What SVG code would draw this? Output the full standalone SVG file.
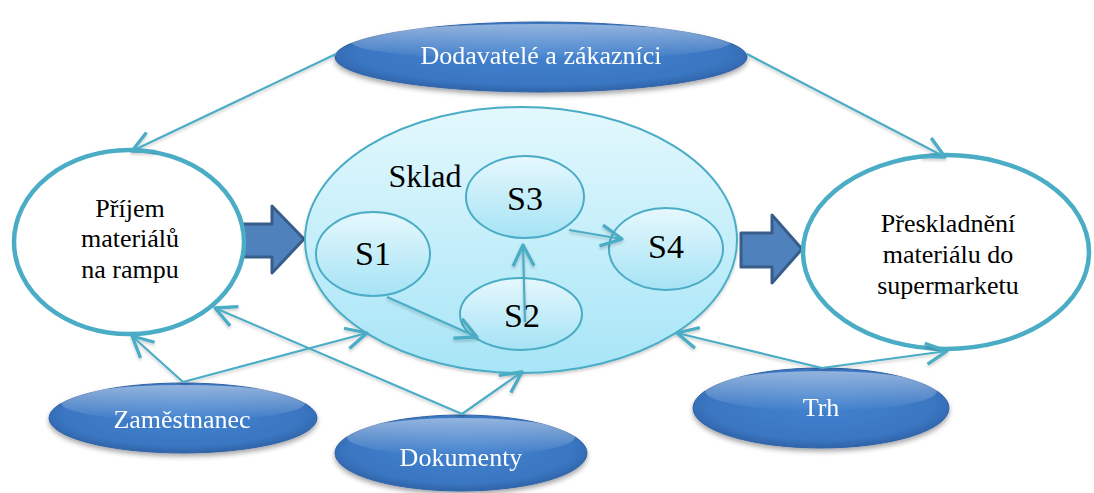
<svg xmlns="http://www.w3.org/2000/svg" width="1094" height="493" viewBox="0 0 1094 493">
  <style>
    .lbl { font-family: "Liberation Serif", "Times New Roman", serif; text-anchor: middle; }
    .dark { fill: #000000; font-size: 26px; }
    .big { fill: #000000; font-size: 34px; }
    .light { fill: #ffffff; font-size: 26px; }
    .ring { fill: #ffffff; stroke: #4BACC6; stroke-width: 4.5; }
    .cyan { stroke: #4BACC6; stroke-width: 2; }
    .blue { fill: url(#blueBody); stroke: #2F62A6; stroke-width: 1; }
    .gloss { fill: url(#blueGloss); }
    .block { fill: #4F81BD; stroke: #385D8A; stroke-width: 3; stroke-linejoin: round; }
    .link { fill: none; stroke: #4BACC6; stroke-width: 2.2; marker-end: url(#vee); }
  </style>
  <defs>
    <radialGradient id="blueBody" cx="0.5" cy="0.45" r="0.6">
      <stop offset="0" stop-color="#4282CF"/>
      <stop offset="0.75" stop-color="#3A76C2"/>
      <stop offset="1" stop-color="#2A5A9C"/>
    </radialGradient>
    <linearGradient id="blueGloss" x1="0" y1="0" x2="0" y2="1">
      <stop offset="0" stop-color="#ffffff" stop-opacity="0.45"/>
      <stop offset="1" stop-color="#ffffff" stop-opacity="0"/>
    </linearGradient>
    <linearGradient id="aqua" x1="0" y1="0" x2="0" y2="1">
      <stop offset="0" stop-color="#E3F8FD"/>
      <stop offset="1" stop-color="#A7E5F7"/>
    </linearGradient>
    <linearGradient id="aquaSmall" x1="0" y1="0" x2="0" y2="1">
      <stop offset="0" stop-color="#E6F8FD"/>
      <stop offset="1" stop-color="#A5E3F5"/>
    </linearGradient>
    <filter id="shadow" x="-10%" y="-20%" width="120%" height="160%">
      <feDropShadow dx="0" dy="3" stdDeviation="2.5" flood-color="#000000" flood-opacity="0.35"/>
    </filter>
    <filter id="lineShadow" x="-10%" y="-10%" width="120%" height="130%">
      <feDropShadow dx="0" dy="2" stdDeviation="1.5" flood-color="#000000" flood-opacity="0.2"/>
    </filter>
    <marker id="vee" markerUnits="userSpaceOnUse" markerWidth="30" markerHeight="30" viewBox="-16 -10 20 20" refX="0" refY="0" orient="auto">
      <path d="M-14,-7 L0,0 L-14,7" fill="none" stroke="#4BACC6" stroke-width="2.2" stroke-linejoin="round"/>
    </marker>
  </defs>

  <!-- big block arrows into and out of the warehouse -->
  <g id="flow-in">
    <polygon class="block" points="240,224 272,224 272,206 304,239 272,273 272,257 240,257"/>
  </g>
  <g id="flow-out">
    <polygon class="block" points="741,233 772,233 772,215 802,249 772,283 772,267 741,267"/>
  </g>

  <!-- incoming material -->
  <g id="prijem">
    <ellipse class="ring" cx="129" cy="242" rx="115" ry="92"/>
    <text class="lbl dark" x="130" y="217">Příjem</text>
    <text class="lbl dark" x="130" y="247">materiálů</text>
    <text class="lbl dark" x="130" y="278">na rampu</text>
  </g>

  <!-- relocation to the supermarket -->
  <g id="preskladneni">
    <ellipse class="ring" cx="946" cy="252" rx="143" ry="97"/>
    <text class="lbl dark" x="948" y="232">Přeskladnění</text>
    <text class="lbl dark" x="948" y="263">materiálu do</text>
    <text class="lbl dark" x="948" y="294">supermarketu</text>
  </g>

  <!-- warehouse with its four sections -->
  <g id="sklad">
    <ellipse cx="521" cy="240" rx="216" ry="133" fill="url(#aqua)" stroke="#4BACC6" stroke-width="2" filter="url(#lineShadow)"/>
    <text class="lbl" x="425" y="187" font-size="32">Sklad</text>
  </g>
  <g id="s1">
    <ellipse class="cyan" cx="373" cy="254" rx="57" ry="42" fill="url(#aquaSmall)"/>
    <text class="lbl big" x="373" y="265">S1</text>
  </g>
  <g id="s3">
    <ellipse class="cyan" cx="525" cy="197" rx="59" ry="41" fill="url(#aquaSmall)"/>
    <text class="lbl big" x="525" y="210">S3</text>
  </g>
  <g id="s4">
    <ellipse class="cyan" cx="666" cy="249" rx="57" ry="41" fill="url(#aquaSmall)"/>
    <text class="lbl big" x="666" y="258">S4</text>
  </g>
  <g id="s2">
    <ellipse class="cyan" cx="521" cy="314" rx="61" ry="36" fill="url(#aquaSmall)"/>
    <text class="lbl big" x="522" y="327">S2</text>
  </g>

  <!-- external actors -->
  <g id="dodavatele" filter="url(#shadow)">
    <ellipse class="blue" cx="541" cy="57" rx="206" ry="35"/>
    <ellipse class="gloss" cx="541" cy="42" rx="190" ry="18"/>
    <text class="lbl light" x="541" y="64">Dodavatelé a zákazníci</text>
  </g>
  <g id="zamestnanec" filter="url(#shadow)">
    <ellipse class="blue" cx="183" cy="418" rx="134" ry="35"/>
    <ellipse class="gloss" cx="183" cy="403" rx="122" ry="18"/>
    <text class="lbl light" x="182" y="428">Zaměstnanec</text>
  </g>
  <g id="dokumenty" filter="url(#shadow)">
    <ellipse class="blue" cx="461" cy="453" rx="126" ry="38"/>
    <ellipse class="gloss" cx="461" cy="437" rx="114" ry="19"/>
    <text class="lbl light" x="461" y="466">Dokumenty</text>
  </g>
  <g id="trh" filter="url(#shadow)">
    <ellipse class="blue" cx="821" cy="408" rx="128" ry="40"/>
    <ellipse class="gloss" cx="821" cy="391" rx="116" ry="20"/>
    <text class="lbl light" x="821" y="416">Trh</text>
  </g>

  <!-- connectors -->
  <g id="connectors" filter="url(#lineShadow)">
    <line class="link" x1="336" y1="54" x2="132" y2="151"/>
    <line class="link" x1="747" y1="54" x2="945" y2="157"/>
    <line class="link" x1="183" y1="382" x2="132" y2="336"/>
    <line class="link" x1="183" y1="382" x2="367" y2="333"/>
    <line class="link" x1="462" y1="414" x2="215" y2="308"/>
    <line class="link" x1="462" y1="414" x2="522" y2="372"/>
    <line class="link" x1="822" y1="368" x2="677" y2="333"/>
    <line class="link" x1="822" y1="368" x2="947" y2="351"/>
    <line class="link" x1="387" y1="297" x2="477" y2="337"/>
    <line class="link" x1="525" y1="322" x2="523" y2="245"/>
    <line class="link" x1="569" y1="230" x2="622" y2="239"/>
  </g>
</svg>
